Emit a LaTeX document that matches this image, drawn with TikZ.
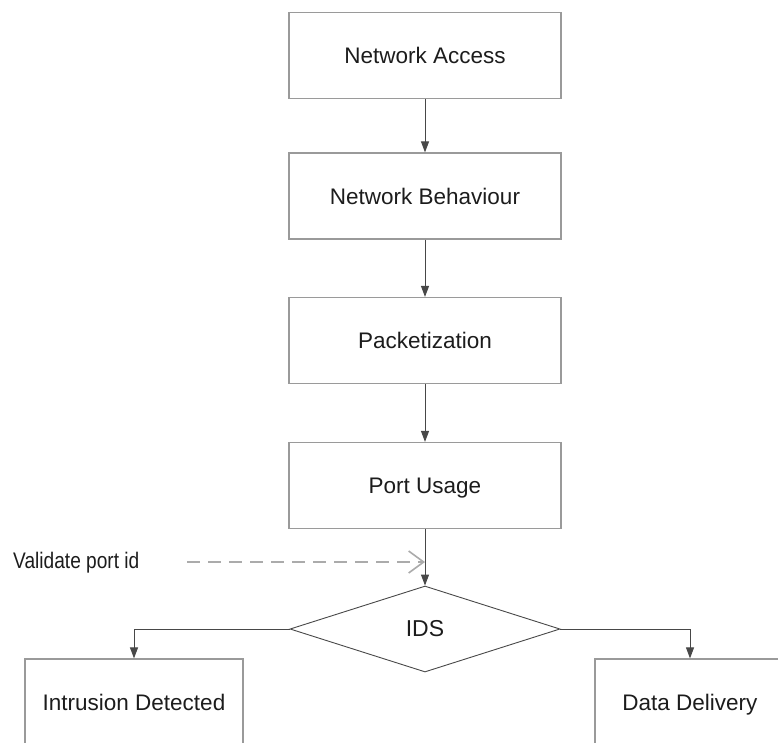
\documentclass[tikz,border=0pt]{standalone}
\usepackage{fontspec}
\setmainfont{Liberation Sans}
\usetikzlibrary{arrows.meta,shapes.geometric}

\definecolor{boxline}{HTML}{9A9A9A}
\definecolor{flowline}{HTML}{484848}
\definecolor{dashline}{HTML}{ABABAB}
\definecolor{labeltext}{HTML}{1C1C1C}

\tikzset{
  labelfont/.style={font=\fontsize{22.5pt}{26pt}\selectfont},
  stepbox/.style={draw=boxline, line width=1.2pt, minimum width=272pt,
    minimum height=86pt, inner sep=0pt, text=labeltext, labelfont,
    text height=16pt, text depth=0pt},
  endbox/.style={stepbox, minimum width=218pt},
  decision/.style={draw=flowline, line width=0.9pt, shape=diamond,
    minimum width=270pt, minimum height=86pt, inner sep=0pt, aspect=3.14,
    text=labeltext, font=\fontsize{23pt}{26pt}\selectfont},
  flow/.style={draw=flowline, line width=1pt,
    -{Triangle[width=8pt,length=11pt]}},
  hint/.style={draw=dashline, line width=2pt, dash pattern=on 13pt off 8pt,
    -{Straight Barb[length=15pt,width=22pt,line width=1.6pt]}},
}

\begin{document}
\begin{tikzpicture}[x=1pt, y=-1pt]
  \useasboundingbox (0,0) rectangle (778,742);
  \clip (0,0) rectangle (778,742);

  % main chain of stages
  \node[stepbox] (access)  at (425,55.5)  {Network Access};
  \node[stepbox] (behave)  at (425,196)   {Network Behaviour};
  \node[stepbox] (packet)  at (425,340.5) {Packetization};
  \node[stepbox] (port)    at (425,485.5) {Port Usage};

  % decision and its two outcomes
  \node[decision] (ids) at (425,629) {IDS};
  \node[endbox] (intrusion) at (134,702) {Intrusion Detected};
  \node[endbox, minimum width=190pt] (delivery) at (690,702) {Data Delivery};

  % side note feeding the port check
  \node[text=labeltext, inner sep=0pt, anchor=west, labelfont]
        (validate) at (13,563) {\scalebox{0.85}[1]{Validate port id}};
  \coordinate (hintstart) at (187,562);
  \coordinate (hintend) at (425,562);

  % connectors
  \draw[flow] (access) -- (behave);
  \draw[flow] (behave) -- (packet);
  \draw[flow] (packet) -- (port);
  \draw[flow] (port) -- (ids.north);
  \draw[flow] (ids.west) -| (intrusion.north);
  \draw[flow] (ids.east) -| (delivery.north);
  \draw[hint] (hintstart) -- (hintend);
\end{tikzpicture}
\end{document}
